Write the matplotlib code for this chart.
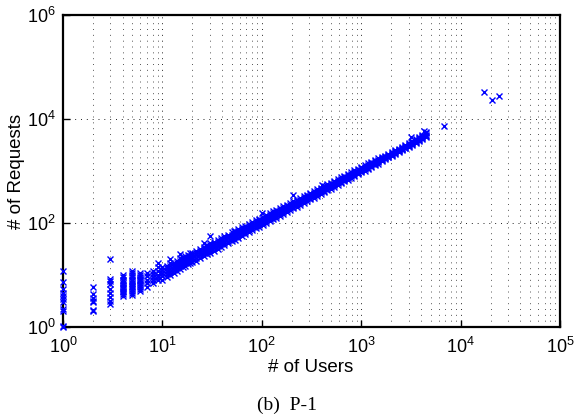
import matplotlib
matplotlib.use('Agg')
import matplotlib.pyplot as plt
from matplotlib.ticker import LogLocator, NullFormatter

plt.rcParams['font.family'] = ['Liberation Sans', 'DejaVu Sans']
plt.rcParams['mathtext.default'] = 'regular'

# columns of small integer user counts
small_users = [1]*11 + [2]*7 + [3]*9 + [4]*13 + [5]*14 + [6]*11
small_reqs = [1, 1.03, 2, 2.2, 3, 3.5, 4, 4.6, 5.5, 7.2, 12,
              2, 2.1, 3, 3.2, 3.55, 4.3, 6,
              2.8, 3.2, 3.7, 4.5, 5.5, 6.7, 7.6, 8.4, 20,
              4, 4.3, 4.7, 5, 5.3, 5.7, 6, 6.5, 7, 7.5, 8, 9, 10,
              4.2, 4.6, 5, 5.4, 5.8, 6.2, 6.6, 7, 7.5, 8, 9, 10, 11, 12,
              5, 5.5, 6, 6.5, 7, 7.5, 8, 8.5, 9, 10, 11]

# the main band, lower edge to upper edge
users = [7, 8, 9, 10, 11, 12, 13, 14, 15, 16, 17, 18, 19, 20, 22, 24, 26, 28, 30, 33,
         36, 39, 42, 46, 50, 54, 58, 63, 68, 74, 80, 87, 94, 102, 110, 120, 130, 140,
         152, 165, 178, 192, 208, 225, 243, 263, 285, 308, 333, 360, 390, 422, 456,
         494, 534, 578, 625, 676, 731, 791, 856, 926, 1002, 1084, 1172, 1268, 1372,
         1484, 1606, 1737, 1879, 2033, 2200, 2380, 2575, 2786, 3014, 3260, 3527, 3816,
         4128, 4466]
reqs_low = [6, 7, 8, 8, 9, 10, 11, 12, 13, 14, 15, 16, 17, 18, 19, 21, 23, 25, 26, 29,
            32, 35, 37, 41, 45, 48, 52, 57, 61, 67, 72, 79, 85, 93, 100, 109, 118, 127,
            139, 151, 163, 176, 191, 207, 224, 243, 264, 285, 309, 334, 362, 392, 424,
            460, 498, 540, 584, 632, 684, 740, 802, 868, 940, 1017, 1100, 1190, 1288,
            1393, 1570, 1700, 1835, 1980, 2145, 2315, 2510, 2710, 2940, 3200, 3400, 3700,
            4100, 4500]
reqs_lowmid = [7, 8, 9, 9.5, 10.5, 11.5, 12.5, 13.5, 15, 16, 17, 18, 19, 20, 21.5, 24, 26, 28, 30, 33,
               36, 39, 42, 46, 50, 53, 58, 63, 68, 74, 80, 87, 94, 102, 110, 119, 129, 139,
               152, 165, 178, 192, 207, 224, 242, 262, 284, 307, 332, 359, 389, 420, 455,
               492, 532, 576, 623, 674, 729, 788, 852, 922, 998, 1079, 1167, 1262, 1364,
               1475, 1630, 1760, 1900, 2055, 2220, 2400, 2600, 2810, 3050, 3350, 3550, 3900,
               4300, 4750]
reqs_mid = [8, 9, 10, 11, 12, 13, 14, 15, 17, 18, 19, 20, 21, 22, 24, 27, 29, 31, 33, 36,
            40, 43, 46, 51, 55, 59, 64, 69, 74, 81, 88, 95, 103, 111, 120, 130, 141, 152,
            165, 178, 192, 207, 224, 242, 261, 282, 305, 329, 355, 384, 416, 449, 485,
            525, 567, 613, 662, 716, 774, 836, 904, 978, 1058, 1142, 1234, 1335, 1442,
            1560, 1688, 1825, 1972, 2132, 2305, 2490, 2695, 2915, 3160, 3500, 3700, 4100,
            4500, 5000]
reqs_midhigh = [9.5, 10.5, 12, 12.5, 13.5, 15, 15.5, 17, 19, 19.5, 21, 22, 23.5, 24.5, 26.5, 29, 32, 34, 37, 40,
                44, 47, 51, 55, 60, 65, 70, 75, 81, 88, 96, 103, 112, 121, 131, 141, 153, 165,
                178, 193, 208, 224, 242, 261, 281, 304, 328, 354, 382, 412, 446, 481, 519,
                561, 606, 655, 707, 764, 825, 892, 965, 1043, 1127, 1216, 1313, 1420, 1533,
                1657, 1750, 1895, 2050, 2215, 2395, 2590, 2800, 3030, 3280, 3670, 3900, 4300,
                4750, 5350]
reqs_high = [11, 12, 14, 14, 15, 17, 17, 19, 21, 21, 23, 24, 26, 27, 29, 32, 35, 38, 41, 44,
             48, 52, 56, 60, 66, 71, 76, 82, 89, 96, 104, 112, 122, 132, 142, 153, 167, 178,
             193, 210, 225, 243, 262, 282, 304, 328, 352, 380, 410, 442, 478, 516, 556,
             600, 648, 700, 755, 816, 880, 952, 1030, 1112, 1200, 1295, 1398, 1510, 1630,
             1760, 1820, 1970, 2130, 2300, 2490, 2690, 2910, 3150, 3410, 3850, 4100, 4500,
             5000, 5700]

# points sitting away from the band
outlier_users = [9, 12, 15, 26, 30, 52, 100, 206, 400, 3170, 4300, 6800, 17000, 20700, 24300]
outlier_reqs = [17, 20, 25, 42, 57, 71, 156, 346, 537, 4500, 5900, 7300, 33000, 23000, 27700]

x_ticks = [1, 10, 100, 1000, 10000, 100000]
x_labels = ['$10^{0}$', '$10^{1}$', '$10^{2}$', '$10^{3}$', '$10^{4}$', '$10^{5}$']
y_ticks = [1, 100, 10000, 1000000]
y_labels = ['$10^{0}$', '$10^{2}$', '$10^{4}$', '$10^{6}$']

fig = plt.figure(figsize=(5.74, 4.17), dpi=100)
ax = fig.add_axes([63/574, 1 - 327/417, 497/574, 312/417])

marker_style = dict(linestyle='none', marker='x', color='#0000ff', ms=3.8, mew=1.0, clip_on=False, zorder=3)
ax.loglog(small_users, small_reqs, **marker_style)
for band in [reqs_low, reqs_lowmid, reqs_mid, reqs_midhigh, reqs_high]:
    ax.loglog(users, band, **marker_style)
ax.loglog(outlier_users, outlier_reqs, **marker_style)

ax.set_xlim(1, 100000)
ax.set_ylim(1, 1000000)
ax.set_xticks(x_ticks)
ax.set_xticklabels(x_labels)
ax.set_yticks(y_ticks)
ax.set_yticklabels(y_labels)
ax.xaxis.set_minor_locator(LogLocator(base=10, subs=range(2, 10), numticks=12))
ax.yaxis.set_minor_locator(LogLocator(base=10, subs=range(2, 10), numticks=12))
ax.xaxis.set_minor_formatter(NullFormatter())
ax.yaxis.set_minor_formatter(NullFormatter())

# matlab style dotted grid, ticks pointing in
ax.grid(True, which='major', color='#222222', linewidth=0.7, linestyle=(0, (1, 5)))
ax.grid(True, which='minor', axis='x', color='#555555', linewidth=0.7, linestyle=(0, (1, 5)))
ax.set_axisbelow(True)
ax.tick_params(which='major', direction='in', length=5, width=1.0, labelsize=13, pad=5)
ax.tick_params(which='minor', direction='in', length=0)
ax.tick_params(axis='x', pad=7)
for side in ax.spines:
    ax.spines[side].set_linewidth(1.6)

fig.text(311/574, 1 - 368/417, '# of Users', ha='center', va='center', fontsize=13.5)
fig.text(17/574, 1 - 171/417, '# of Requests', ha='center', va='center', rotation=90, fontsize=13.5)
fig.text(287/574, 1 - 405/417, '(b)  P-1', ha='center', va='center', fontsize=14, family='Liberation Serif')

fig.savefig('out.png', dpi=100)
